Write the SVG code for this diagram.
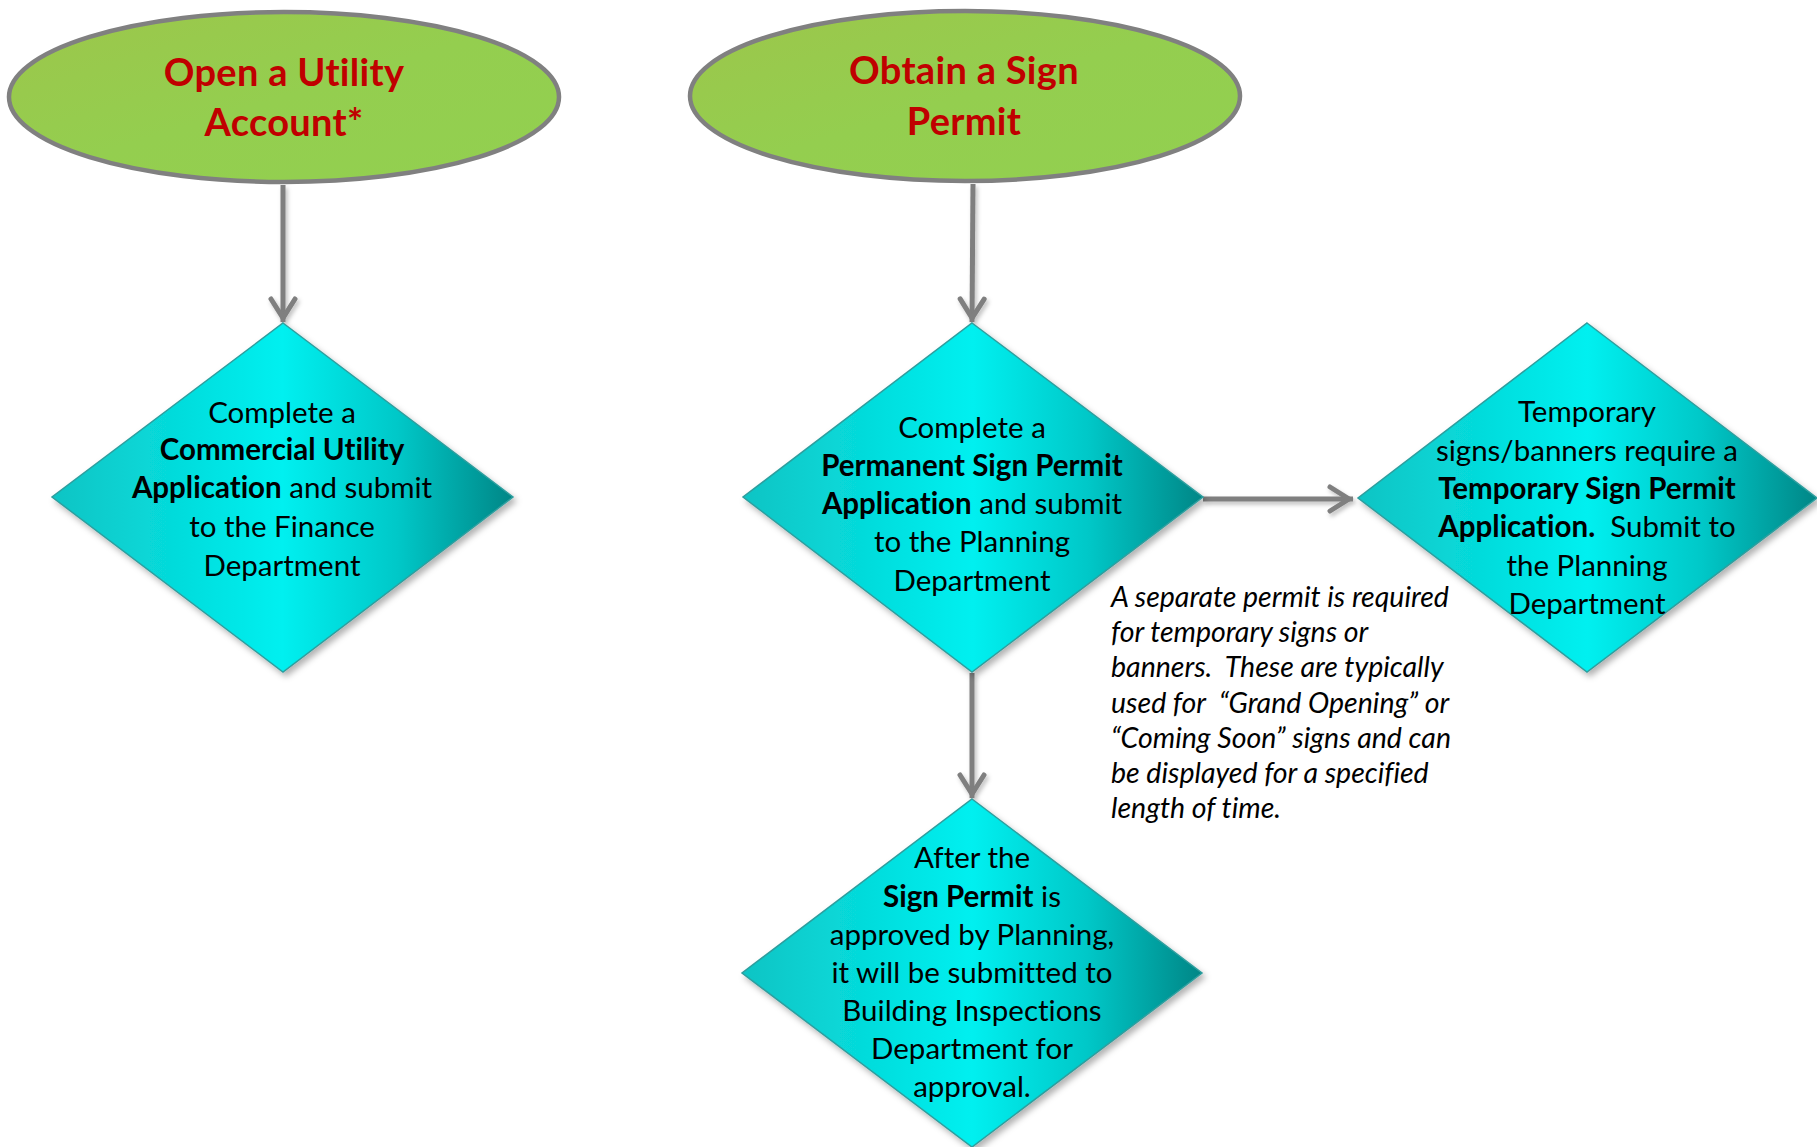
<svg xmlns="http://www.w3.org/2000/svg" width="1817" height="1147" viewBox="0 0 1817 1147">
<defs>
<linearGradient id="gGreen" x1="0" y1="0" x2="1" y2="1">
<stop offset="0" stop-color="#9CC64B"/>
<stop offset="0.5" stop-color="#94CE4F"/>
<stop offset="1" stop-color="#92D050"/>
</linearGradient>
<linearGradient id="gCyan" x1="0" y1="0" x2="1" y2="0">
<stop offset="0" stop-color="#0CC4C4"/>
<stop offset="0.5" stop-color="#00F0F0"/>
<stop offset="0.75" stop-color="#00C8C8"/>
<stop offset="1" stop-color="#008686"/>
</linearGradient>
<filter id="shadow" x="-10%" y="-10%" width="125%" height="125%">
<feDropShadow dx="3" dy="4" stdDeviation="3" flood-color="#000" flood-opacity="0.3"/>
</filter>
<filter id="lshadow" filterUnits="userSpaceOnUse" x="0" y="0" width="1817" height="1147">
<feDropShadow dx="2" dy="3" stdDeviation="2" flood-color="#000" flood-opacity="0.25"/>
</filter>
<marker id="arrow" markerUnits="userSpaceOnUse" viewBox="-30 -20 40 40" refX="0" refY="0" markerWidth="40" markerHeight="40" orient="auto">
<path d="M-23,-12 L-4,0 L-23,12" fill="none" stroke="#7F7F7F" stroke-width="5" stroke-linejoin="miter" stroke-linecap="round"/>
</marker>
<style>
.ell{fill:url(#gGreen);stroke:#808080;stroke-width:4.5}
.dia{fill:url(#gCyan);stroke:#2E9E9E;stroke-width:1.5;filter:url(#shadow)}
text{font-variant-ligatures:none}
.title{font-family:Lato,"Open Sans","Liberation Sans",sans-serif;font-weight:700;font-size:38px;letter-spacing:0.3px;fill:#C00000;text-anchor:middle}
.txt{font-family:Lato,"Open Sans","Liberation Sans",sans-serif;font-size:29.5px;fill:#000;text-anchor:middle}
.b{font-weight:700}
.note{font-family:Lato,"Open Sans","Liberation Sans",sans-serif;font-style:italic;font-size:28.5px;fill:#000}
.con{fill:none;stroke:#7F7F7F;stroke-width:5;marker-end:url(#arrow)}
</style>
</defs>

<g id="connectors" filter="url(#lshadow)">
<path class="con" d="M283,185 L283,322"/>
<path class="con" d="M973,184 L972,322"/>
<path class="con" d="M1203,499 L1353,499"/>
<path class="con" d="M972,673 L972,798"/>
</g>

<g id="node-utility-start">
<ellipse class="ell" cx="284" cy="97" rx="275" ry="85"/>
<text class="title" x="284" y="86">Open a Utility</text>
<text class="title" x="284" y="136">Account*</text>
</g>

<g id="node-sign-start">
<ellipse class="ell" cx="965" cy="96" rx="275" ry="85"/>
<text class="title" x="964" y="84">Obtain a Sign</text>
<text class="title" x="964" y="135">Permit</text>
</g>

<g id="node-utility-app">
<polygon class="dia" points="283,323 513,497 283,672 52,497"/>
<text class="txt" x="282" y="423">Complete a</text>
<text class="txt b" x="282" y="460">Commercial Utility</text>
<text class="txt" x="282" y="498"><tspan class="b">Application</tspan> and submit</text>
<text class="txt" x="282" y="537">to the Finance</text>
<text class="txt" x="282" y="576">Department</text>
</g>

<g id="node-permanent-sign">
<polygon class="dia" points="972,323 1203,497 972,672 743,497"/>
<text class="txt" x="972" y="438">Complete a</text>
<text class="txt b" x="972" y="476">Permanent Sign Permit</text>
<text class="txt" x="972" y="514"><tspan class="b">Application</tspan> and submit</text>
<text class="txt" x="972" y="552">to the Planning</text>
<text class="txt" x="972" y="591">Department</text>
</g>

<g id="node-temporary-sign">
<polygon class="dia" points="1587,323 1817,498 1587,672 1358,498"/>
<text class="txt" x="1587" y="422">Temporary</text>
<text class="txt" x="1587" y="461">signs/banners require a</text>
<text class="txt b" x="1587" y="499">Temporary Sign Permit</text>
<text class="txt" x="1587" y="537" xml:space="preserve"><tspan class="b">Application.</tspan>  Submit to</text>
<text class="txt" x="1587" y="576">the Planning</text>
<text class="txt" x="1587" y="614">Department</text>
</g>

<g id="node-building">
<polygon class="dia" points="972,799 1202,973 972,1147 742,973"/>
<text class="txt" x="972" y="868">After the</text>
<text class="txt" x="972" y="907"><tspan class="b">Sign Permit</tspan> is</text>
<text class="txt" x="972" y="945">approved by Planning,</text>
<text class="txt" x="972" y="983">it will be submitted to</text>
<text class="txt" x="972" y="1021">Building Inspections</text>
<text class="txt" x="972" y="1059">Department for</text>
<text class="txt" x="972" y="1097">approval.</text>
</g>

<g id="note">
<text class="note" xml:space="preserve"><tspan x="1111" y="607">A separate permit is required</tspan><tspan x="1111" y="642">for temporary signs or</tspan><tspan x="1111" y="677">banners.  These are typically</tspan><tspan x="1111" y="713">used for  “Grand Opening” or</tspan><tspan x="1111" y="748">“Coming Soon” signs and can</tspan><tspan x="1111" y="783">be displayed for a specified</tspan><tspan x="1111" y="818">length of time.</tspan></text>
</g>
</svg>
